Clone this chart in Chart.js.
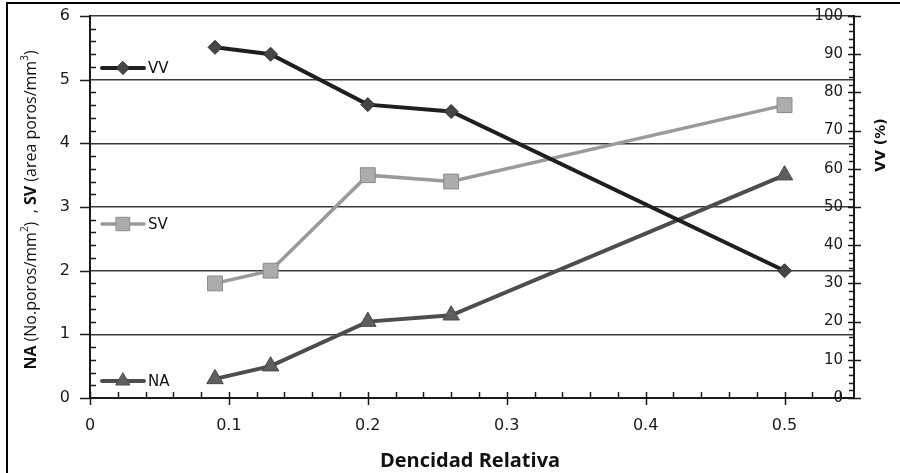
<!DOCTYPE html>
<html><head><meta charset="utf-8">
<script src="https://cdn.jsdelivr.net/npm/chart.js@4/dist/chart.umd.min.js"></script>
<style>html,body{margin:0;padding:0;background:#fff;}#wrap{position:relative;width:900px;height:473px;}</style>
</head><body><div id="wrap"><canvas id="c" width="900" height="473"></canvas></div>
<script>
const densidad = [0.09, 0.13, 0.2, 0.26, 0.5];
const naValues = [0.3, 0.5, 1.2, 1.3, 3.5];
const svValues = [1.8, 2.0, 3.5, 3.4, 4.6];
const vvValues = [91.8, 90.0, 76.8, 75.0, 33.3];
const xTickLabels = [0, 0.1, 0.2, 0.3, 0.4, 0.5];
const yLeftTickLabels = [0, 1, 2, 3, 4, 5, 6];
const yRightTickLabels = [0, 10, 20, 30, 40, 50, 60, 70, 80, 90, 100];
const seriesNames = ['VV', 'SV', 'NA'];

const pts = (ys) => densidad.map((x, i) => ({x: x, y: ys[i]}));

const styles = {
  VV: {line: '#1f1f1f', fill: '#454545', stroke: '#2e2e2e', shape: 'rectRot', r: 7, lw: 4},
  SV: {line: '#9a9a9a', fill: '#acacac', stroke: '#8a8a8a', shape: 'rect', r: 10.5, lw: 3.5},
  NA: {line: '#4d4d4d', fill: '#5e5e5e', stroke: '#4a4a4a', shape: 'triangle', r: 9.5, lw: 4}
};

function drawMarker(ctx, shape, x, y, r, fill, stroke) {
  ctx.save();
  ctx.fillStyle = fill; ctx.strokeStyle = stroke; ctx.lineWidth = 1;
  ctx.beginPath();
  if (shape === 'rectRot') {
    ctx.moveTo(x, y - r); ctx.lineTo(x + r, y); ctx.lineTo(x, y + r); ctx.lineTo(x - r, y); ctx.closePath();
  } else if (shape === 'rect') {
    const s = Math.SQRT1_2 * r; ctx.rect(x - s, y - s, 2 * s, 2 * s);
  } else {
    const h = r * Math.sin(Math.PI / 3);
    ctx.moveTo(x, y - r); ctx.lineTo(x + h, y + r / 2); ctx.lineTo(x - h, y + r / 2); ctx.closePath();
  }
  ctx.fill(); ctx.stroke();
  ctx.restore();
}

const decor = {
  id: 'decor',
  afterDraw(chart) {
    const ctx = chart.ctx;
    const xs = chart.scales.x, yl = chart.scales.y, yr = chart.scales.y1;
    const ca = chart.chartArea;
    ctx.save();
    ctx.strokeStyle = '#1a1a1a'; ctx.lineWidth = 1.5;
    for (let i = 0; i <= 30; i++) {
      const py = Math.round(yl.getPixelForValue(i * 0.2)) + 0.5;
      ctx.beginPath();
      if (i % 5 === 0) { ctx.moveTo(ca.left - 10, py); ctx.lineTo(ca.left, py); }
      else { ctx.moveTo(ca.left, py); ctx.lineTo(ca.left + 6, py); }
      ctx.stroke();
    }
    for (let i = 0; i <= 27; i++) {
      const px = Math.round(xs.getPixelForValue(i * 0.02)) + 0.5;
      ctx.beginPath();
      if (i % 5 === 0) { ctx.moveTo(px, ca.bottom - 6); ctx.lineTo(px, ca.bottom + 7); }
      else { ctx.moveTo(px, ca.bottom - 6); ctx.lineTo(px, ca.bottom); }
      ctx.stroke();
    }
    for (let i = 0; i <= 50; i++) {
      const py = Math.round(yr.getPixelForValue(i * 2)) + 0.5;
      ctx.beginPath();
      if (i % 5 === 0) { ctx.moveTo(ca.right - 6, py); ctx.lineTo(ca.right + 7, py); }
      else { ctx.moveTo(ca.right - 5, py); ctx.lineTo(ca.right, py); }
      ctx.stroke();
    }
    ctx.restore();

    const legendY = {VV: 68, SV: 224, NA: 381};
    seriesNames.forEach(n => {
      const s = styles[n], y = legendY[n];
      ctx.save();
      ctx.strokeStyle = s.line; ctx.lineWidth = s.lw; ctx.lineCap = 'round';
      ctx.beginPath(); ctx.moveTo(102, y); ctx.lineTo(144, y); ctx.stroke();
      drawMarker(ctx, s.shape, 123, y, n === 'SV' ? 9.5 : (n === 'NA' ? 8 : 6.5), s.fill, s.stroke);
      ctx.fillStyle = '#111'; ctx.font = '15px "DejaVu Sans"'; ctx.textBaseline = 'middle'; ctx.textAlign = 'left';
      ctx.fillText(n, 148, y + 1);
      ctx.restore();
    });

    const segs = [
      {t: 'NA', b: true}, {t: ' (No.poros/mm'}, {t: '2', sup: true}, {t: ')  , '},
      {t: 'SV', b: true}, {t: ' (area poros/mm'}, {t: '3', sup: true}, {t: ')'}
    ];
    const fam = '"Open Sans"';
    const fontOf = s => s.sup ? '10px ' + fam : (s.b ? 'bold 16px ' + fam : '16px ' + fam);
    ctx.save();
    let total = 0;
    segs.forEach(s => { ctx.font = fontOf(s); s.w = ctx.measureText(s.t).width; total += s.w; });
    ctx.translate(31, 210); ctx.rotate(-Math.PI / 2);
    ctx.fillStyle = '#111'; ctx.textBaseline = 'middle'; ctx.textAlign = 'left';
    let cx = -total / 2;
    segs.forEach(s => { ctx.font = fontOf(s); ctx.fillText(s.t, cx, s.sup ? -6 : 0); cx += s.w; });
    ctx.restore();

    ctx.save();
    ctx.translate(881, 145); ctx.rotate(-Math.PI / 2);
    ctx.font = 'bold 14px "DejaVu Sans"'; ctx.fillStyle = '#111'; ctx.textAlign = 'center'; ctx.textBaseline = 'middle';
    ctx.fillText('VV (%)', 0, 0);
    ctx.restore();

    ctx.save();
    ctx.font = 'bold 20px "Open Sans"'; ctx.fillStyle = '#111'; ctx.textAlign = 'center'; ctx.textBaseline = 'middle';
    ctx.fillText('Dencidad Relativa', 470, 461);
    ctx.restore();

    ctx.save();
    ctx.strokeStyle = '#000'; ctx.lineWidth = 2;
    ctx.beginPath(); ctx.moveTo(7, 473); ctx.lineTo(7, 3); ctx.lineTo(900, 3); ctx.stroke();
    ctx.restore();
  }
};

function ds(name, data, axis) {
  const s = styles[name];
  return {
    label: name, data: data, yAxisID: axis, showLine: true,
    borderColor: s.line, borderWidth: s.lw, backgroundColor: s.fill,
    pointStyle: s.shape, pointRadius: s.r, pointHoverRadius: s.r,
    pointBackgroundColor: s.fill, pointBorderColor: s.stroke, pointBorderWidth: 1,
    tension: 0, clip: false
  };
}

new Chart(document.getElementById('c'), {
  type: 'scatter',
  data: {
    datasets: [
      ds('VV', pts(vvValues), 'y1'),
      ds('SV', pts(svValues), 'y'),
      ds('NA', pts(naValues), 'y')
    ]
  },
  options: {
    responsive: false, animation: false, devicePixelRatio: 1,
    layout: {padding: {top: 16, left: 0, right: 0, bottom: 0}},
    plugins: {legend: {display: false}, tooltip: {enabled: false}},
    scales: {
      x: {
        type: 'linear', min: 0, max: 0.55,
        afterBuildTicks: sc => { sc.ticks = xTickLabels.map(v => ({value: v})); },
        afterFit: sc => { sc.height = 75; sc.paddingLeft = 0; sc.paddingRight = 0; },
        grid: {display: false, drawTicks: false},
        border: {display: true, color: '#1a1a1a', width: 2},
        ticks: {padding: 18, color: '#1a1a1a', font: {family: 'DejaVu Sans', size: 16}, maxRotation: 0,
          callback: v => String(v)}
      },
      y: {
        type: 'linear', position: 'left', min: 0, max: 6,
        afterBuildTicks: sc => { sc.ticks = yLeftTickLabels.map(v => ({value: v})); },
        afterFit: sc => { sc.width = 90; sc.paddingTop = 0; sc.paddingBottom = 0; },
        grid: {display: true, drawTicks: false, color: '#3a3a3a', lineWidth: 1.5},
        border: {display: true, color: '#1a1a1a', width: 2},
        ticks: {padding: 20, color: '#1a1a1a', font: {family: 'DejaVu Sans', size: 16}}
      },
      y1: {
        type: 'linear', position: 'right', min: 0, max: 100,
        afterBuildTicks: sc => { sc.ticks = yRightTickLabels.map(v => ({value: v})); },
        afterFit: sc => { sc.width = 46; sc.paddingTop = 0; sc.paddingBottom = 0; },
        grid: {display: false, drawTicks: false},
        border: {display: true, color: '#1a1a1a', width: 2},
        ticks: {mirror: true, padding: -11, color: '#1a1a1a', font: {family: 'DejaVu Sans', size: 15}}
      }
    }
  },
  plugins: [decor]
});
</script></body></html>
